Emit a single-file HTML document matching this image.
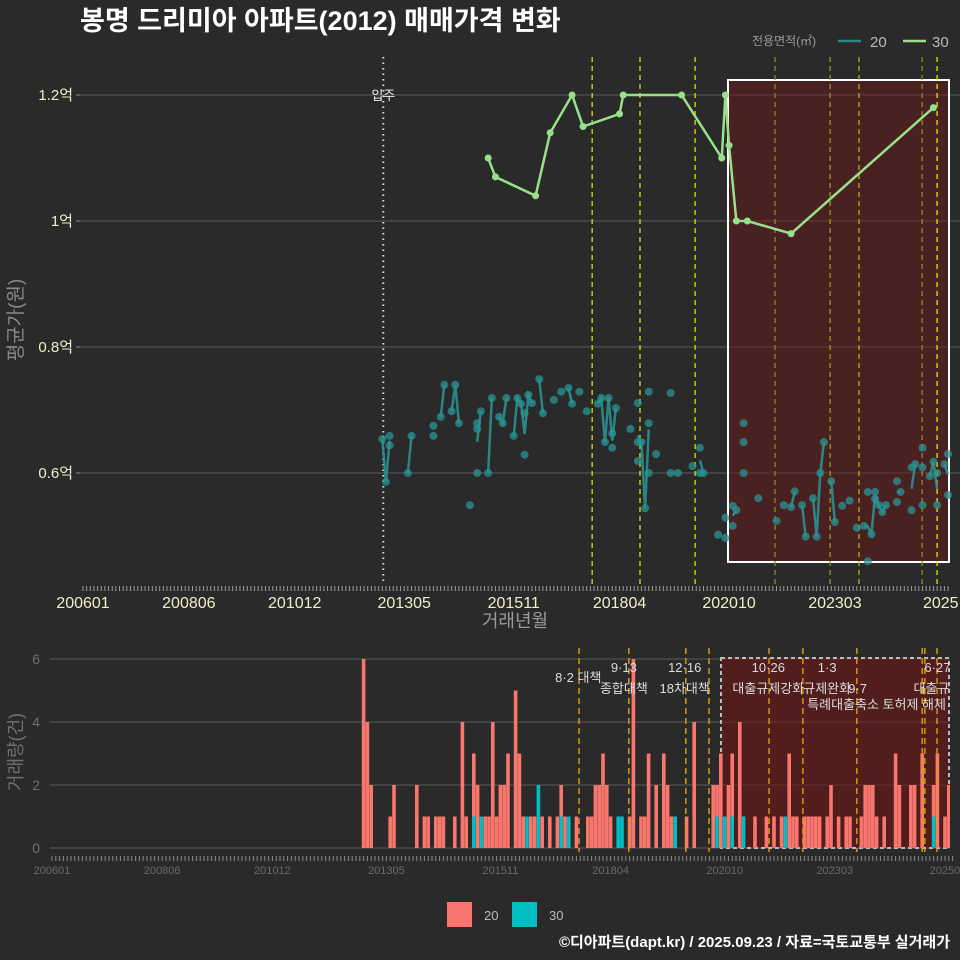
<!DOCTYPE html>
<html><head><meta charset="utf-8">
<style>
html,body{margin:0;padding:0;background:#2a2a2a;}
svg{display:block;font-family:"Liberation Sans","Noto Sans CJK KR",sans-serif;}
</style></head>
<body>
<svg id="chart" width="960" height="960" viewBox="0 0 960 960" xmlns="http://www.w3.org/2000/svg">
<defs>
<clipPath id="clipTop"><rect x="80" y="55" width="880" height="530"/></clipPath>
<clipPath id="clipBot"><rect x="50" y="640" width="900" height="212"/></clipPath>
</defs>
<rect x="0" y="0" width="960" height="960" fill="#2a2a2a"/>
<text x="80" y="30" fill="#ffffff" font-size="27" font-weight="bold">봉명 드리미아 아파트(2012) 매매가격 변화</text>
<g>
<text x="752" y="45" fill="#9a9a9a" font-size="12">전용면적(㎡)</text>
<line x1="838" y1="41" x2="861" y2="41" stroke="#2a8a8a" stroke-width="2.5"/>
<text x="870" y="47" fill="#bbbbbb" font-size="15">20</text>
<line x1="903" y1="41" x2="926" y2="41" stroke="#98e08a" stroke-width="2.5"/>
<text x="932" y="47" fill="#bbbbbb" font-size="15">30</text>
</g>
<g id="topPanel"></g>
<g id="botPanel"></g>
<g>
<rect x="447" y="902" width="25" height="25" fill="#f8766d"/>
<text x="484" y="920" fill="#bbbbbb" font-size="13">20</text>
<rect x="512" y="902" width="25" height="25" fill="#00bfc4"/>
<text x="549" y="920" fill="#bbbbbb" font-size="13">30</text>
</g>
<text x="950" y="947" text-anchor="end" fill="#ffffff" font-size="15" font-weight="bold">©디아파트(dapt.kr) / 2025.09.23 / 자료=국토교통부 실거래가</text>
</svg>
<script>
// months are counted from 2006-01 (0)
const xTickLabels = ["200601","200806","201012","201305","201511","201804","202010","202303","202508"];
const xTickMonths = [0,29,58,88,118,147,177,206,235];
const yTickValues = [6000,8000,10000,12000];
const yTickLabels = ["0.6억","0.8억","1억","1.2억"];
const greenMonth = [111,113,124,128,134,137,147,148,164,175,176,177,179,182,194,233];
const greenValue = [11000,10700,10400,11400,12000,11500,11700,12000,12000,11000,12000,11200,10000,10000,9800,11800];
const tealMonth = [82,83,84,84,89,90,96,96,98,99,101,102,103,106,108,108,108,109,111,112,114,115,116,118,119,120,121,121,122,123,125,126,129,131,133,134,136,138,141,142,143,144,145,145,146,150,152,152,152,153,154,155,155,155,157,161,161,163,167,169,169,170,174,176,176,178,178,179,181,181,181,185,190,192,194,195,197,198,200,201,202,203,205,206,208,210,212,214,215,215,216,217,217,218,219,220,223,223,224,227,227,228,230,230,230,232,233,234,234,236,237,237];
const tealValue = [6540,5860,6590,6440,6000,6590,6750,6590,6890,7400,6980,7400,6790,5490,6790,6700,6000,6980,6000,7190,6890,6790,7190,6590,7190,7100,6950,6290,7240,7110,7490,6950,7160,7290,7350,7100,7290,6980,7100,7190,6490,7190,6630,6400,7030,6700,7110,6490,6190,6490,5440,7290,6790,6000,6300,7270,6000,6000,6110,6400,6000,6000,5020,5290,4970,5480,5160,5410,6790,6490,6000,5600,5240,5490,5460,5710,5490,4990,5600,4990,6000,6490,5870,5220,5480,5560,5130,5160,5700,4600,5030,5700,5590,5490,5380,5490,5540,5870,5700,5410,6090,6140,6400,6090,5490,5950,6180,6000,5490,6140,6300,5650];
const topPolicyMonth = [139.5,152.6,167.7,189.6,204.7,212.6,229.9,234];
const moveInMonth = 82;
const barMonth = [82,83,84,89,90,96,98,99,101,102,103,106,108,109,111,112,113,114,115,116,117,118,119,120,122,123,124,125,126,127,128,129,131,133,134,135,136,138,141,142,143,144,145,146,147,149,150,152,153,155,156,157,159,161,162,163,164,167,169,174,175,176,177,178,179,181,182,185,188,190,192,193,194,195,196,198,199,200,201,202,204,205,207,209,210,213,214,215,216,217,219,222,223,226,227,229,232,233,235,236];
const bar20 = [6,4,2,1,2,2,1,1,1,1,1,1,4,1,2,2,0,1,1,4,1,2,2,3,5,3,1,0,1,1,0,1,1,1,1,1,0,1,1,1,2,2,3,2,1,0,0,1,6,1,1,3,2,3,2,1,0,1,4,2,1,3,0,2,2,4,0,1,1,1,1,0,3,1,1,1,1,1,1,1,1,2,1,1,1,1,2,2,2,1,1,3,2,2,2,3,1,3,1,2];
const bar30 = [0,0,0,0,0,0,0,0,0,0,0,0,0,0,1,0,1,0,0,0,0,0,0,0,0,0,0,1,0,0,2,0,0,0,1,0,1,0,0,0,0,0,0,0,0,1,1,0,0,0,0,0,0,0,0,0,1,0,0,0,1,0,1,0,1,0,1,0,0,0,0,1,0,0,0,0,0,0,0,0,0,0,0,0,0,0,0,0,0,0,0,0,0,0,0,0,1,0,0,0];
const yCountTicks = [0,2,4,6];
const botPolicyMonth = [138.7,151.8,166.8,172.9,188.7,197.6,211.8,229,229.7,232.9];
const policyLabelMonth = [138.5,150.5,166.5,188.5,204,212,217,233];
const policyLine1 = ["","9·13","12·16","10·26","1·3","","","6·27"];
const policyLine2 = ["8·2 대책","종합대책","18차대책","대출규제강화","규제완화","9·7","","대출규제"];
const policyLine3 = ["","","","","","","특례대출축소 토허제 해제",""];

const NS="http://www.w3.org/2000/svg";
function mk(parent,tag,attrs){const e=document.createElementNS(NS,tag);for(const k in attrs)e.setAttribute(k,attrs[k]);parent.appendChild(e);return e;}
const xT = m => 83 + 3.65*m;
const yT = v => 473 - (v-6000)*0.063;
const xB = m => 52 + 3.8*m;
const yB = c => 848 - c*31.5;

const topG = document.getElementById('topPanel');
const botG = document.getElementById('botPanel');

yTickValues.forEach((v,i)=>{
  const g=mk(topG,'line',{x1:80,x2:960,y1:yT(v),y2:yT(v),stroke:'#5a5a5a','stroke-width':1});
  
  
  const tk=mk(topG,'line',{x1:76,x2:80,y1:yT(v),y2:yT(v),stroke:'#888'});
  
  
  const t=mk(topG,'text',{x:73,y:yT(v)+5,'text-anchor':'end',fill:'#f0f0c8','font-size':15});
  t.textContent=yTickLabels[i];
  
  
});
const hr=mk(topG,'rect',{x:728,y:80,width:221,height:482,fill:'rgba(110,22,22,0.45)',stroke:'#ffffff','stroke-width':2});


for(let m=0;m<=237;m++){
  const l=mk(topG,'line',{x1:xT(m),x2:xT(m),y1:586,y2:591,stroke:'#9a9a9a','stroke-width':1});
  
  
  const l2=mk(botG,'line',{x1:xB(m),x2:xB(m),y1:856,y2:861,stroke:'#8a8a8a','stroke-width':1});
  
  
}
xTickLabels.forEach((s,i)=>{
  const t=mk(topG,'text',{x:xT(xTickMonths[i]),y:608,'text-anchor':'middle',fill:'#f0f0c8','font-size':16});
  t.textContent = i===xTickLabels.length-1 ? "2025" : s;
  
  
  const t2=mk(botG,'text',{x:xB(xTickMonths[i]),y:874,'text-anchor':'middle',fill:'#6a6a6a','font-size':11});
  t2.textContent = i===xTickLabels.length-1 ? "20250" : s;
  
  
});
const xa=mk(topG,'text',{x:515,y:627,'text-anchor':'middle',fill:'#9a9a9a','font-size':18});
xa.textContent='거래년월';


const ya=mk(topG,'text',{x:0,y:0,'text-anchor':'middle',fill:'#8a8a8a','font-size':19,transform:'translate(22,320) rotate(-90)'});
ya.textContent='평균가(원)';



const tg=mk(topG,'g',{'clip-path':'url(#clipTop)'});


const mv=mk(tg,'line',{x1:xT(moveInMonth)+1,x2:xT(moveInMonth)+1,y1:57,y2:585,stroke:'#dddddd','stroke-width':2,'stroke-dasharray':'1.5 4'});


const mvt=mk(tg,'text',{x:xT(moveInMonth)+1,y:100,'text-anchor':'middle',fill:'#eeeeee','font-size':13});
mvt.textContent='입주';


const topCols=['#dede00','#dede00','#dede00','#8c8c20','#9a9a20','#b0b020','#8c8c20','#e6e600'];
topPolicyMonth.forEach((m,i)=>{
  const l=mk(tg,'line',{x1:xT(m),x2:xT(m),y1:57,y2:585,stroke:topCols[i],'stroke-width':1.3,'stroke-dasharray':'5 4'});
  
  
});
const groups={};
tealMonth.forEach((m,i)=>{(groups[m]=groups[m]||[]).push(tealValue[i]);});
const months=Object.keys(groups).map(Number).sort((a,b)=>a-b);
let seg=[];
function flush(){ if(seg.length>1){const p=mk(tg,'polyline',{points:seg.map(q=>q.join(',')).join(' '),fill:'none',stroke:'#2a9090','stroke-width':2.5,'stroke-opacity':0.9});
  
  } seg=[]; }
months.forEach((m,i)=>{
  const mean=groups[m].reduce((a,b)=>a+b,0)/groups[m].length;
  if(i>0 && m-months[i-1]>1) flush();
  seg.push([xT(m),yT(mean)]);
});
flush();
tealMonth.forEach((m,i)=>{
  const c=mk(tg,'circle',{cx:xT(m),cy:yT(tealValue[i]),r:4,fill:'#2a9494','fill-opacity':0.75});
  
  
});
const gp=mk(tg,'polyline',{points:greenMonth.map((m,i)=>xT(m)+','+yT(greenValue[i])).join(' '),fill:'none',stroke:'#98e08a','stroke-width':2.5});


greenMonth.forEach((m,i)=>{
  const c=mk(tg,'circle',{cx:xT(m),cy:yT(greenValue[i]),r:3.5,fill:'#98e08a'});
  
  
});

yCountTicks.forEach(v=>{
  const g=mk(botG,'line',{x1:50,x2:950,y1:yB(v),y2:yB(v),stroke:'#5a5a5a'});
  
  
  const t=mk(botG,'text',{x:40,y:yB(v)+5,'text-anchor':'end',fill:'#707070','font-size':14});
  t.textContent=v;
  
  
});
const by=mk(botG,'text',{x:0,y:0,'text-anchor':'middle',fill:'#707070','font-size':18,transform:'translate(22,752) rotate(-90)'});
by.textContent='거래량(건)';


const bg=mk(botG,'g',{'clip-path':'url(#clipBot)'});


const br=mk(bg,'rect',{x:721,y:658,width:228,height:190,fill:'rgba(110,22,22,0.6)',stroke:'#bbbbbb','stroke-width':2,'stroke-dasharray':'4 3'});


barMonth.forEach((m,i)=>{
  const x=xB(m)-1.8;
  if(bar30[i]>0){const r=mk(bg,'rect',{x:x,y:yB(bar30[i]),width:3.6,height:bar30[i]*31.5,fill:'#00bfc4'});
    
    }
  if(bar20[i]>0){const r=mk(bg,'rect',{x:x,y:yB(bar30[i]+bar20[i]),width:3.6,height:bar20[i]*31.5,fill:'#f8766d'});
    
    }
});
botPolicyMonth.forEach(m=>{
  const l=mk(bg,'line',{x1:xB(m),x2:xB(m),y1:648,y2:860,stroke:'#e0a010','stroke-width':1.4,'stroke-dasharray':'6 4'});
  
  
});
policyLabelMonth.forEach((m,i)=>{
  const x=xB(m);
  [[policyLine1[i],672],[policyLine2[i],i===0?682:693],[policyLine3[i],709]].forEach(([s,y])=>{
    if(!s)return;
    const t=mk(bg,'text',{x:x,y:y,'text-anchor':'middle',fill:'#dddddd','font-size':13});
    t.textContent=s;
    
    
  });
});
</script>
</body></html>
